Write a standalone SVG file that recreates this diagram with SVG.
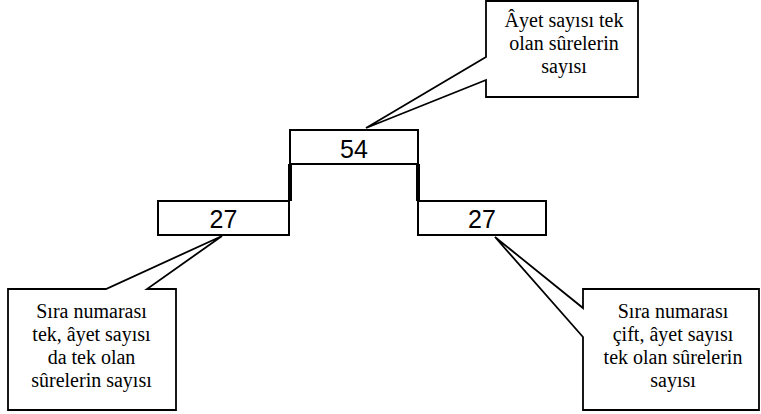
<svg xmlns="http://www.w3.org/2000/svg" width="761" height="414" viewBox="0 0 761 414">
<style>
.box{fill:#fff;stroke:#000;stroke-width:2}
.callout{fill:#fff;stroke:#000;stroke-width:1.8;stroke-linejoin:miter}
.num{font-family:"Liberation Sans",Arial,sans-serif;font-size:25px;fill:#000;text-anchor:middle}
.lbl{font-family:"Liberation Serif","Times New Roman",serif;font-size:20px;fill:#000;text-anchor:middle}
.bar{stroke:#000;stroke-width:4;fill:none}
</style>
<rect width="761" height="414" fill="#fff"/>
<g id="connectors">
<line class="bar" x1="290" y1="164" x2="290" y2="201"/>
<line class="bar" x1="418" y1="164" x2="418" y2="201"/>
</g>
<g id="node-54">
<rect class="box" x="290" y="130" width="128" height="34"/>
<text class="num" x="354" y="158">54</text>
</g>
<g id="node-27-left">
<rect class="box" x="158" y="201" width="131" height="34"/>
<text class="num" x="223.5" y="228">27</text>
</g>
<g id="node-27-right">
<rect class="box" x="418" y="201" width="128" height="34"/>
<text class="num" x="482" y="228">27</text>
</g>
<g id="callout-top">
<path class="callout" d="M486,1 H638 V97 H486 V80 L366,128 L486,57 Z"/>
<text class="lbl" x="564" y="27">Âyet sayısı tek</text>
<text class="lbl" x="564" y="50">olan sûrelerin</text>
<text class="lbl" x="564" y="73">sayısı</text>
</g>
<g id="callout-left">
<path class="callout" d="M8,289 H106 L222,236 L147,289 H176 V410 H8 Z"/>
<text class="lbl" x="91.5" y="318">Sıra numarası</text>
<text class="lbl" x="91.5" y="341">tek, âyet sayısı</text>
<text class="lbl" x="91.5" y="364">da tek olan</text>
<text class="lbl" x="91.5" y="387">sûrelerin sayısı</text>
</g>
<g id="callout-right">
<path class="callout" d="M583,289 H759 V410 H583 V337 L495,237 L583,308 Z"/>
<text class="lbl" x="673" y="318">Sıra numarası</text>
<text class="lbl" x="673" y="341">çift, âyet sayısı</text>
<text class="lbl" x="673" y="364">tek olan sûrelerin</text>
<text class="lbl" x="673" y="387">sayısı</text>
</g>
</svg>
